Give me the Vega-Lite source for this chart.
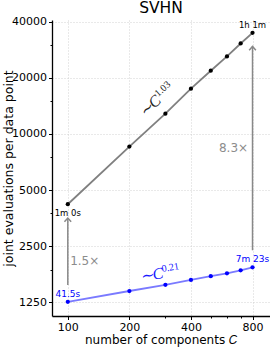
{
  "$schema": "https://vega.github.io/schema/vega-lite/v6.json",
  "width": 218,
  "height": 296,
  "autosize": {"type": "none"},
  "padding": {"left": 52, "top": 20, "right": 0, "bottom": 32},
  "title": {"text": "SVHN", "fontSize": 15.5, "font": "DejaVu Sans", "fontWeight": "normal", "offset": -1, "anchor": "middle", "color": "black"},
  "config": {
    "view": {"stroke": null},
    "font": "DejaVu Sans",
    "axis": {
      "domainColor": "black", "domainWidth": 1.3, "tickColor": "black", "tickWidth": 1,
      "labelFontSize": 11, "labelColor": "black", "labelFont": "DejaVu Sans",
      "titleFontSize": 12.5, "titleFontWeight": "normal", "titleColor": "black", "titleFont": "DejaVu Sans",
      "gridColor": "#c8c8c8", "gridDash": [1, 2], "gridWidth": 0.8,
      "labelOverlap": false, "labelFlush": false
    }
  },
  "datasets": {
    "series": [
      {"C": 100, "v": 4200, "s": "gray"}, {"C": 200, "v": 8550, "s": "gray"}, {"C": 300, "v": 12840, "s": "gray"}, {"C": 400, "v": 17470, "s": "gray"},
      {"C": 500, "v": 21800, "s": "gray"}, {"C": 600, "v": 26000, "s": "gray"}, {"C": 700, "v": 30500, "s": "gray"}, {"C": 800, "v": 34800, "s": "gray"},
      {"C": 100, "v": 1260, "s": "blue"}, {"C": 200, "v": 1440, "s": "blue"}, {"C": 300, "v": 1555, "s": "blue"}, {"C": 400, "v": 1650, "s": "blue"},
      {"C": 500, "v": 1730, "s": "blue"}, {"C": 600, "v": 1790, "s": "blue"}, {"C": 700, "v": 1860, "s": "blue"}, {"C": 800, "v": 1930, "s": "blue"}
    ],
    "arrows": [
      {"C": 100, "v": 1550, "v2": 3540},
      {"C": 800, "v": 2380, "v2": 29400}
    ],
    "timeBlack": [
      {"C": 100, "v": 3765, "t": "1m 0s"},
      {"C": 800, "v": 38300, "t": "1h 1m"}
    ],
    "timeBlue": [
      {"C": 100, "v": 1387, "t": "41.5s"},
      {"C": 800, "v": 2125, "t": "7m 23s"}
    ],
    "ratios": [
      {"C": 646, "v": 8420, "t": "8.3×"},
      {"C": 121, "v": 2078, "t": "1.5×"}
    ],
    "expGray": [{"C": 238, "v": 12200, "base": "∼C", "exp": "1.03"}],
    "expBlue": [{"C": 227, "v": 1610, "base": "∼C", "exp": "0.21"}]
  },
  "encoding": {
    "x": {
      "field": "C", "type": "quantitative",
      "scale": {"type": "log", "base": 2, "domain": [83.7, 974], "nice": false, "zero": false},
      "axis": {
        "title": "number of components 𝐶",
        "titleFontSize": 12,
        "values": [100, 200, 300, 400, 500, 600, 700, 800],
        "format": "d",
        "labelExpr": "indexof([100,200,400,800], datum.value) >= 0 ? datum.label : ''",
        "tickSize": {"condition": {"test": "indexof([100,200,400,800], datum.value) >= 0", "value": 3.5}, "value": 2},
        "gridOpacity": {"condition": {"test": "indexof([100,200,400,800], datum.value) >= 0", "value": 1}, "value": 0},
        "labelPadding": 1.5, "titlePadding": 2
      }
    },
    "y": {
      "field": "v", "type": "quantitative",
      "scale": {"type": "log", "base": 2, "domain": [1058, 40750], "nice": false, "zero": false},
      "axis": {
        "title": "joint evaluations per data point",
        "values": [1250, 1875, 2500, 3750, 5000, 7500, 10000, 15000, 20000, 30000, 40000],
        "format": "d",
        "labelExpr": "indexof([1250,2500,5000,10000,20000,40000], datum.value) >= 0 ? datum.label : ''",
        "tickSize": {"condition": {"test": "indexof([1250,2500,5000,10000,20000,40000], datum.value) >= 0", "value": 3.5}, "value": 2},
        "gridOpacity": {"condition": {"test": "indexof([1250,2500,5000,10000,20000,40000], datum.value) >= 0", "value": 1}, "value": 0},
        "labelPadding": 2, "titlePadding": -4
      }
    }
  },
  "layer": [
    {
      "data": {"name": "arrows"},
      "mark": {"type": "rule", "color": "#888888", "strokeWidth": 1.5},
      "encoding": {"y2": {"field": "v2"}}
    },
    {
      "data": {"name": "arrows"},
      "mark": {"type": "point", "shape": "M-1,1.1L0,0L1,1.1", "filled": false, "stroke": "#888888", "strokeWidth": 1.5, "size": 45, "opacity": 1},
      "encoding": {"y": {"field": "v2", "type": "quantitative"}}
    },
    {
      "data": {"name": "series"},
      "transform": [{"filter": "datum.s == 'gray'"}],
      "mark": {"type": "line", "color": "#808080", "strokeWidth": 1.8}
    },
    {
      "data": {"name": "series"},
      "transform": [{"filter": "datum.s == 'gray'"}],
      "mark": {"type": "point", "filled": true, "color": "black", "size": 18, "opacity": 1}
    },
    {
      "data": {"name": "series"},
      "transform": [{"filter": "datum.s == 'blue'"}],
      "mark": {"type": "line", "color": "#7a7aff", "strokeWidth": 1.8}
    },
    {
      "data": {"name": "series"},
      "transform": [{"filter": "datum.s == 'blue'"}],
      "mark": {"type": "point", "filled": true, "color": "#0000ff", "size": 18, "opacity": 1}
    },
    {
      "data": {"name": "timeBlack"},
      "mark": {"type": "text", "fontSize": 8.5, "color": "black", "align": "center", "baseline": "middle"},
      "encoding": {"text": {"field": "t"}}
    },
    {
      "data": {"name": "timeBlue"},
      "mark": {"type": "text", "fontSize": 9, "color": "#0000ff", "align": "center", "baseline": "middle"},
      "encoding": {"text": {"field": "t"}}
    },
    {
      "data": {"name": "ratios"},
      "mark": {"type": "text", "fontSize": 12, "color": "#8c8c8c", "align": "center", "baseline": "middle"},
      "encoding": {"text": {"field": "t"}}
    },
    {
      "data": {"name": "expGray"},
      "mark": {"type": "text", "font": "Liberation Serif", "fontStyle": "italic", "fontSize": 16, "color": "#222222", "align": "left", "baseline": "alphabetic", "angle": -43},
      "encoding": {"text": {"field": "base"}}
    },
    {
      "data": {"name": "expGray"},
      "mark": {"type": "text", "font": "Liberation Serif", "fontSize": 10, "color": "#222222", "align": "left", "baseline": "alphabetic", "angle": -43, "dx": 24, "dy": -6},
      "encoding": {"text": {"field": "exp"}}
    },
    {
      "data": {"name": "expBlue"},
      "mark": {"type": "text", "font": "Liberation Serif", "fontStyle": "italic", "fontSize": 16, "color": "#1a1aff", "align": "left", "baseline": "alphabetic", "angle": -10},
      "encoding": {"text": {"field": "base"}}
    },
    {
      "data": {"name": "expBlue"},
      "mark": {"type": "text", "font": "Liberation Serif", "fontSize": 10, "color": "#1a1aff", "align": "left", "baseline": "alphabetic", "angle": -10, "dx": 23, "dy": -6},
      "encoding": {"text": {"field": "exp"}}
    }
  ]
}
